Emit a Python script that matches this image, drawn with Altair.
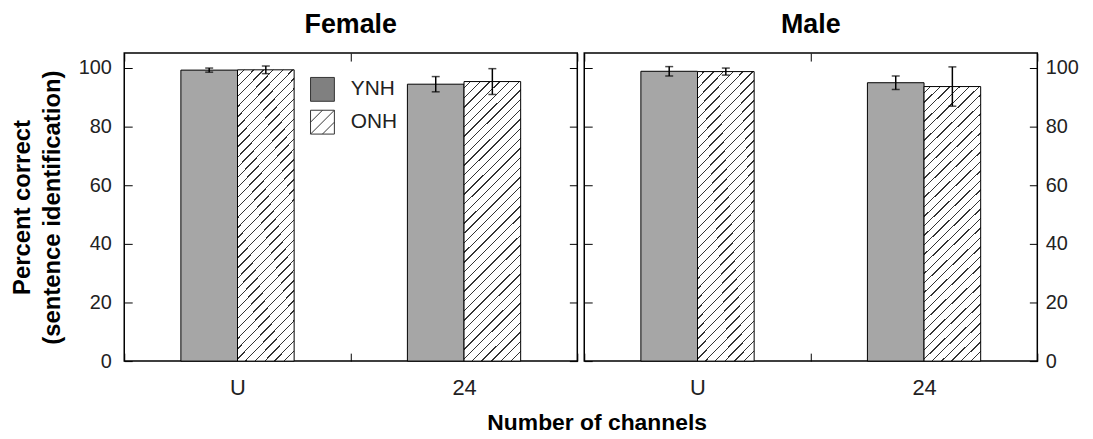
import altair as alt
import pandas as pd

# ---------------- data ----------------
sexes = ["Female", "Female", "Female", "Female", "Male", "Male", "Male", "Male"]
channels = ["U", "U", "24", "24", "U", "U", "24", "24"]
groups = ["YNH", "ONH", "YNH", "ONH", "YNH", "ONH", "YNH", "ONH"]
means = [99.2, 99.3, 94.4, 95.3, 98.8, 98.7, 94.9, 93.6]
errors = [0.7, 1.3, 2.6, 4.4, 1.6, 1.2, 2.3, 6.7]

channel_order = ["U", "24"]
group_order = ["YNH", "ONH"]

df = pd.DataFrame({"sex": sexes, "channels": channels, "group": groups,
                   "mean": means, "err": errors})
df["lo"] = df["mean"] - df["err"]
df["hi"] = df["mean"] + df["err"]

# ---------------- styling ----------------
FONT = "Liberation Sans"
BAR_GRAY = "#a6a6a6"
LEG_GRAY = "#808080"
PANEL_W = 456
PANEL_H = 310
TICK = 8


def hatch_gradient(W=57.0, H=283.0, spacing=9.8, thick=1.4, color="#333333"):
    """Diagonal hatch as a linear gradient with hard stops (SVG bbox units)."""
    k = (W + H) / (W ** 2 + H ** 2)
    total = W + H
    stops = [{"offset": 0, "color": "white"}]
    c = spacing * 0.6
    while c + thick < total:
        o0 = c / total
        o1 = (c + thick) / total
        stops += [{"offset": o0, "color": "white"},
                  {"offset": o0, "color": color},
                  {"offset": o1, "color": color},
                  {"offset": o1, "color": "white"}]
        c += spacing
    stops.append({"offset": 1, "color": "white"})
    return {"gradient": "linear", "x1": 0, "y1": 0,
            "x2": k * W, "y2": k * H, "stops": stops}


HATCH = hatch_gradient()
SQUARE_PATH = "M-1,-1H1V1H-1Z"
HATCH_PATH = "M-1,-1H1V1H-1Z M-1,0L0,-1 M-1,1L1,-1 M0,1L1,0"

x_scale = alt.Scale(domain=channel_order, paddingInner=0, paddingOuter=0)
xo_scale = alt.Scale(domain=group_order, paddingInner=0, paddingOuter=1)
y_scale = alt.Scale(domain=[0, 105], nice=False, zero=True)
y_vals = [0, 20, 40, 60, 80, 100]


def panel(sex, left_labels, right_labels, legend):
    base = alt.Chart(df).transform_filter(alt.datum.sex == sex)

    x_bottom = alt.Axis(orient="bottom", title=None, tickBand="extent",
                        offset=-TICK, tickSize=TICK, domain=False,
                        labelPadding=17, labelFontSize=22, labelFont=FONT,
                        labelColor="#222", tickColor="black", labelAngle=0)
    x_top = alt.Axis(orient="top", title=None, tickBand="extent", offset=-TICK,
                     tickSize=TICK, domain=False, labels=False,
                     tickColor="black")
    y_left = alt.Axis(orient="left", values=y_vals, offset=-TICK, tickSize=TICK,
                      domain=False, grid=False, labels=left_labels,
                      labelPadding=13, labelFontSize=20, labelFont=FONT,
                      labelColor="#222", tickColor="black",
                      title=["Percent correct", "(sentence identification)"] if left_labels else None,
                      titleFont=FONT, titleFontSize=24, titleFontWeight="bold",
                      titleColor="black", titlePadding=14, titleLineHeight=30)
    y_right = alt.Axis(orient="right", values=y_vals, offset=-TICK, tickSize=TICK,
                       domain=False, grid=False, labels=right_labels,
                       labelPadding=8, labelFontSize=20, labelFont=FONT,
                       labelColor="#222", tickColor="black", title=None)

    bars_y = base.transform_filter(alt.datum.group == "YNH").mark_bar(
        fill=BAR_GRAY, stroke="black", strokeWidth=1).encode(
        x=alt.X("channels:N", scale=x_scale, sort=channel_order, axis=x_bottom),
        xOffset=alt.XOffset("group:N", scale=xo_scale, sort=group_order),
        y=alt.Y("mean:Q", scale=y_scale, axis=y_left),
    )
    bars_o = base.transform_filter(alt.datum.group == "ONH").mark_bar(
        fill=HATCH, stroke="black", strokeWidth=1).encode(
        x=alt.X("channels:N", scale=x_scale, sort=channel_order, axis=None),
        xOffset=alt.XOffset("group:N", scale=xo_scale, sort=group_order),
        y=alt.Y("mean:Q", scale=y_scale, axis=None),
    )
    rules = base.mark_rule(color="black", strokeWidth=1.5).encode(
        x=alt.X("channels:N", scale=x_scale, sort=channel_order, axis=None),
        xOffset=alt.XOffset("group:N", scale=xo_scale, sort=group_order),
        y=alt.Y("lo:Q", scale=y_scale, axis=None),
        y2="hi:Q",
    )
    caps_lo = base.mark_tick(color="black", thickness=1.5, size=8,
                             orient="horizontal").encode(
        x=alt.X("channels:N", scale=x_scale, sort=channel_order, axis=x_top),
        xOffset=alt.XOffset("group:N", scale=xo_scale, sort=group_order),
        y=alt.Y("lo:Q", scale=y_scale, axis=y_right),
    )
    caps_hi = base.mark_tick(color="black", thickness=1.5, size=8,
                             orient="horizontal").encode(
        x=alt.X("channels:N", scale=x_scale, sort=channel_order, axis=None),
        xOffset=alt.XOffset("group:N", scale=xo_scale, sort=group_order),
        y=alt.Y("hi:Q", scale=y_scale, axis=None),
    )
    layers = [bars_y, bars_o, rules, caps_lo, caps_hi]
    if legend:
        leg = alt.Legend(title=None, orient="none", legendX=187, legendY=24,
                         symbolSize=576, symbolOpacity=1, symbolStrokeWidth=1,
                         labelFontSize=21, labelFont=FONT, labelColor="#222",
                         labelOffset=16, rowPadding=4, padding=0)
        dummy = base.mark_point(filled=True, opacity=0).encode(
            x=alt.X("channels:N", scale=x_scale, sort=channel_order, axis=None),
            xOffset=alt.XOffset("group:N", scale=xo_scale, sort=group_order),
            y=alt.Y("mean:Q", scale=y_scale, axis=None),
            fill=alt.Fill("group:N", sort=group_order,
                          scale=alt.Scale(domain=group_order, range=[LEG_GRAY, "#ffffff"]),
                          legend=leg),
            stroke=alt.Stroke("group:N", sort=group_order,
                              scale=alt.Scale(domain=group_order, range=["#333333", "#333333"]),
                              legend=leg),
            shape=alt.Shape("group:N", sort=group_order,
                            scale=alt.Scale(domain=group_order, range=[SQUARE_PATH, HATCH_PATH]),
                            legend=leg),
        )
        layers.append(dummy)
    return alt.layer(*layers).properties(
        width=PANEL_W, height=PANEL_H,
        title=alt.TitleParams(sex, fontSize=27, font=FONT, fontWeight="bold",
                              color="black", anchor="middle", offset=14),
    )


left = panel("Female", True, False, True)
right = panel("Male", False, True, False)

chart = alt.hconcat(left, right, spacing=3).properties(
    padding={"left": 1, "top": 0, "right": 5, "bottom": 2},
    title=alt.TitleParams("Number of channels", orient="bottom", anchor="middle",
                          fontSize=23, font=FONT, fontWeight="bold", color="black",
                          offset=13, dx=53),
).configure_view(stroke="black", strokeWidth=1.5).configure_axis(
    labelFont=FONT, titleFont=FONT
)

chart.save("out.html", embed_options={"renderer": "svg", "actions": False})
